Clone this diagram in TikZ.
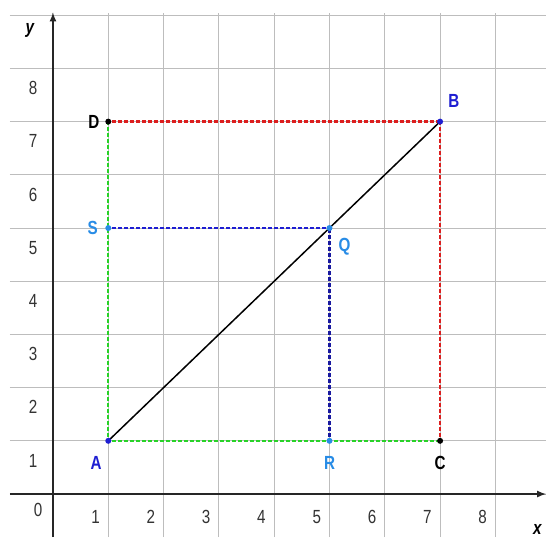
\documentclass[tikz,border=0pt]{standalone}
\usepackage{fontspec}
\setmainfont{Liberation Sans}
\usepackage{graphicx}
\usetikzlibrary{decorations.markings}
\begin{document}
\begin{tikzpicture}[x=55.3pt,y=53.2pt,
  gridline/.style={draw=black!26, line width=1pt},
  axisline/.style={draw=black!85, line width=2pt},
  tick/.style={font=\fontsize{19}{19}\selectfont, text=black!80, inner sep=0pt},
  ptlab/.style={font=\fontsize{19}{19}\selectfont\bfseries, inner sep=0pt},
  dot/.style={circle, fill=#1, inner sep=0pt, minimum size=6pt},
  seg/.style={postaction={decorate}, decoration={markings,
    mark=between positions 0 and 1 step 6pt with {\fill[#1] (-1.9pt,-1.15pt) rectangle (1.9pt,1.15pt);}}}]
\useasboundingbox[fill=white] (-0.958,-0.808) rectangle (8.915,9.286);
\newcommand{\nar}[1]{\scalebox{0.8}[1]{#1}}
% grid
\foreach \i in {0,...,9} \draw[gridline] (-0.778,\i) -- (8.915,\i);
\foreach \i in {0,...,8} \draw[gridline] (\i,-0.808) -- (\i,9.05);
% axes
\draw[axisline,-latex] (-0.778,0) -- (8.915,0);
\draw[axisline,-latex] (0,-0.808) -- (0,9.05);
\node[font=\fontsize{19}{19}\selectfont\bfseries\itshape] (ylab) at (-0.42,8.72) {\nar{y}};
\node[font=\fontsize{19}{19}\selectfont\bfseries\itshape] (xlab) at (8.76,-0.66) {\nar{x}};
% tick labels
\node[tick] (t0) at (-0.27,-0.30) {\nar{0}};
\foreach \i in {1,...,8} \node[tick] (tx\i) at (\i-0.23,-0.43) {\nar{\i}};
\foreach \i in {1,...,8} \node[tick] (ty\i) at (-0.36,\i-0.37) {\nar{\i}};
% points
\coordinate (A) at (1,1);
\coordinate (B) at (7,7);
\coordinate (C) at (7,1);
\coordinate (D) at (1,7);
\coordinate (S) at (1,5);
\coordinate (Q) at (5,5);
\coordinate (R) at (5,1);
\definecolor{gr}{RGB}{40,210,40}
\definecolor{rd}{RGB}{220,30,30}
\definecolor{bl}{RGB}{30,30,210}
\definecolor{nv}{RGB}{25,25,160}
\definecolor{lb}{RGB}{40,140,230}
\path[seg=gr] (A) -- (D);
\path[seg=gr] (A) -- (C);
\path[seg=rd] (D) -- (B);
\path[seg=rd] (C) -- (B);
\path[seg=bl] (S) -- (Q);
\path[seg=nv] (R) -- (Q);
\draw[line width=1.5pt] (A) -- (B);
\node[dot=bl] (Ad) at (A) {};
\node[dot=bl] (Bd) at (B) {};
\node[dot=black] (Cd) at (C) {};
\node[dot=black] (Dd) at (D) {};
\node[dot=lb] (Sd) at (S) {};
\node[dot=lb] (Qd) at (Q) {};
\node[dot=lb] (Rd) at (R) {};
\node[ptlab, text=bl] (Al) at (0.78,0.58) {\nar{A}};
\node[ptlab, text=bl] (Bl) at (7.25,7.38) {\nar{B}};
\node[ptlab, text=black] (Cl) at (7,0.58) {\nar{C}};
\node[ptlab, text=black] (Dl) at (0.74,7) {\nar{D}};
\node[ptlab, text=lb] (Sl) at (0.72,5) {\nar{S}};
\node[ptlab, text=lb] (Ql) at (5.27,4.64) {\nar{Q}};
\node[ptlab, text=lb] (Rl) at (5,0.58) {\nar{R}};
\end{tikzpicture}
\end{document}
